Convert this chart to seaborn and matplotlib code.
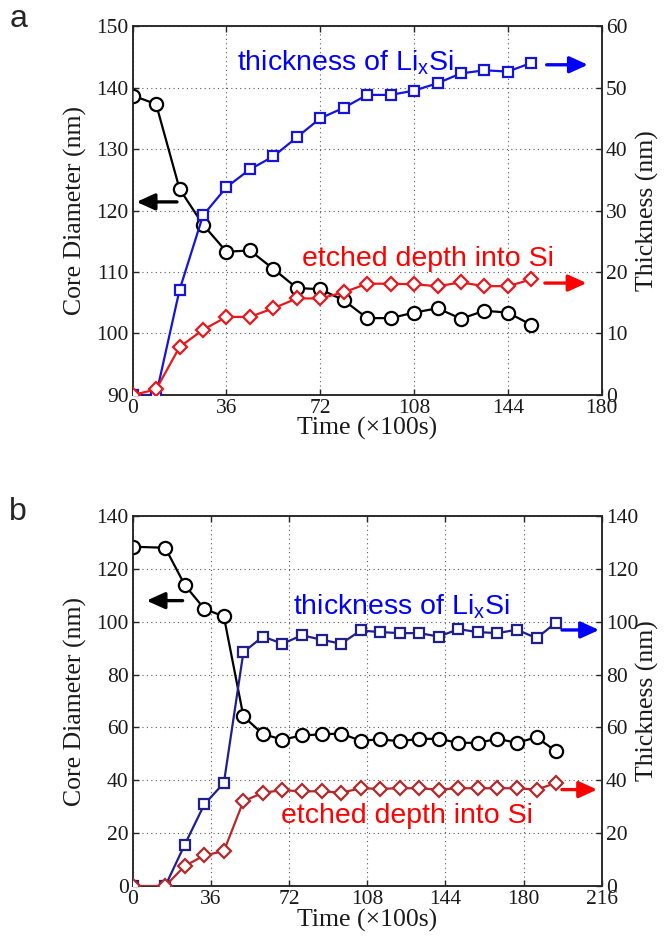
import matplotlib
matplotlib.use("Agg")
import matplotlib.pyplot as plt
import seaborn as sns
import numpy as np
import pandas as pd

# ---------------- data ----------------
# Panel a
time_a = [0, 9, 18, 27, 36, 45, 54, 63, 72, 81, 90, 99, 108, 117, 126, 135, 144, 153]
core_a = [138.7, 137.3, 123.5, 117.7, 113.3, 113.5, 110.5, 107.4, 107.2, 105.4,
          102.5, 102.5, 103.4, 104.1, 102.4, 103.7, 103.4, 101.4]
lixsi_a = [0.0, 0.0, 17.1, 29.2, 33.8, 36.7, 38.8, 41.9, 45.0, 46.7,
           48.8, 48.8, 49.5, 50.7, 52.3, 52.8, 52.6, 54.0]
etch_a = [0.0, 0.9, 7.8, 10.6, 12.7, 12.7, 14.1, 15.7, 15.7, 16.7,
          18.1, 18.1, 18.0, 17.7, 18.3, 17.7, 17.7, 18.8]

# Panel b
time_b = [0, 15, 24, 33, 42, 51, 60, 69, 78, 87, 96, 105, 114, 123, 132, 141,
          150, 159, 168, 177, 186, 195]
core_b = [128.4, 128.0, 113.9, 104.9, 102.0, 64.2, 57.5, 55.4, 57.0, 57.4, 57.7,
          55.0, 55.5, 54.8, 55.7, 55.7, 54.2, 54.2, 55.7, 54.2, 56.3, 51.0]
lixsi_b = [0.0, 0.0, 15.7, 30.9, 39.0, 88.5, 94.4, 91.7, 94.9, 93.2, 91.7,
           96.7, 96.1, 95.7, 95.7, 94.4, 97.2, 96.1, 95.7, 97.0, 93.8, 99.7]
etch_b = [0.0, 0.0, 7.6, 11.6, 13.2, 32.1, 35.3, 36.3, 35.8, 35.9, 35.3,
          37.0, 36.8, 37.0, 37.0, 36.5, 37.0, 37.0, 37.0, 37.0, 36.5, 39.0]

xticks_a = [0, 36, 72, 108, 144, 180]
xticks_b = [0, 36, 72, 108, 144, 180, 216]
label_text_lixsi = "thickness of Li$_\\mathregular{x}$Si"
label_text_etch = "etched depth into Si"
xlabel = "Time (\u00d7100s)"
ylabel_left = "Core Diameter (nm)"
ylabel_right = "Thickness (nm)"

# ---------------- style ----------------
sns.set_style("ticks")
plt.rcParams["font.family"] = ["Liberation Serif", "DejaVu Serif"]
plt.rcParams["mathtext.fontset"] = "custom"
plt.rcParams["mathtext.rm"] = "Liberation Sans"
plt.rcParams["mathtext.it"] = "Liberation Sans"

SANS = ["Liberation Sans", "DejaVu Sans"]
TICK_FS = 15.5
LAB_FS = 18.5
ANN_FS = 20.5

fig = plt.figure(figsize=(6.65, 9.4), dpi=100)

def style_axes(ax, ax2, xlim, xticks, ylim, yticks, ylim2, yticks2, xlab_pad):
    ax.set_xlim(*xlim)
    ax.set_xticks(xticks)
    ax.set_ylim(*ylim)
    ax.set_yticks(yticks)
    ax2.set_ylim(*ylim2)
    ax2.set_yticks(yticks2)
    ax.grid(True, linestyle=(0, (1, 3)), color="0.35", linewidth=0.8)
    ax.tick_params(axis="both", direction="in", length=4, width=1.0,
                   labelsize=TICK_FS, top=True, right=False, pad=3, colors="0.15",
                   labelcolor="0.1")
    ax2.tick_params(axis="y", direction="in", length=4, width=1.0,
                    labelsize=TICK_FS, pad=3, colors="0.15", labelcolor="0.1")
    for a in (ax, ax2):
        for s in a.spines.values():
            s.set_linewidth(1.1)
            s.set_color("0.15")
            s.set_visible(True)
    ax.set_xlabel(xlabel, fontsize=LAB_FS, labelpad=xlab_pad, color="0.1")
    ax.set_ylabel(ylabel_left, fontsize=LAB_FS, color="0.1", va="center")
    ax.yaxis.set_label_coords(-0.123, 0.5)
    ax2.set_ylabel(ylabel_right, fontsize=LAB_FS, color="0.1", rotation=90,
                   va="center")
    ax2.yaxis.set_label_coords(1.097, 0.5)


def draw_series(ax, ax2, t, core, lix, etch, blue, red):
    sns.lineplot(x=t, y=core, ax=ax, color="black", linewidth=1.6, marker="o",
                 markersize=9.5, markerfacecolor="white", markeredgecolor="black",
                 markeredgewidth=1.6, sort=False, legend=False, zorder=3)
    sns.lineplot(x=t, y=lix, ax=ax2, color=blue, linewidth=1.6, marker="s",
                 markersize=7, markerfacecolor="white", markeredgecolor=blue,
                 markeredgewidth=1.6, sort=False, legend=False, zorder=3)
    sns.lineplot(x=t, y=etch, ax=ax2, color=red, linewidth=1.6, marker="D",
                 markersize=7, markerfacecolor="white", markeredgecolor=red,
                 markeredgewidth=1.6, sort=False, legend=False, zorder=4)


def arrow(ax, tail, head, color):
    ax.annotate("", xy=head, xytext=tail,
                arrowprops=dict(arrowstyle="-|>,head_length=0.55,head_width=0.25",
                                mutation_scale=20, lw=2.4, color=color,
                                shrinkA=0, shrinkB=0),
                annotation_clip=False)

# ---------------- panel a ----------------
ax_a = fig.add_axes([0.1995, 0.5798, 0.7053, 0.3925])
ax_a2 = ax_a.twinx()
draw_series(ax_a, ax_a2, time_a, core_a, lixsi_a, etch_a, "#1414dc", "#e8181c")
style_axes(ax_a, ax_a2, (0, 180), xticks_a, (90, 150), list(range(90, 151, 10)),
           (0, 60), list(range(0, 61, 10)), -1)
ax_a2.text(39.9, 52.7, label_text_lixsi, color="#0000ff", fontsize=ANN_FS,
           family=SANS, va="baseline", ha="left")
ax_a2.text(64.8, 21.0, label_text_etch, color="#ff0000", fontsize=ANN_FS,
           family=SANS, va="baseline", ha="left")
arrow(ax_a, (17.0, 121.4), (1.5, 121.4), "black")
arrow(ax_a2, (158.9, 53.7), (174.7, 53.7), "#0000ff")
arrow(ax_a2, (158.2, 18.2), (174.2, 18.2), "#ff0000")
fig.text(0.014, 0.971, "a", fontsize=23, family=SANS, va="baseline", ha="left")

# ---------------- panel b ----------------
ax_b = fig.add_axes([0.1995, 0.0574, 0.7053, 0.3936])
ax_b2 = ax_b.twinx()
draw_series(ax_b, ax_b2, time_b, core_b, lixsi_b, etch_b, "#1f1f8f", "#b5282b")
style_axes(ax_b, ax_b2, (0, 216), xticks_b, (0, 140), list(range(0, 141, 20)),
           (0, 140), list(range(0, 141, 20)), 0)
ax_b2.text(73.8, 102.6, label_text_lixsi, color="#0000ff", fontsize=ANN_FS,
           family=SANS, va="baseline", ha="left")
ax_b2.text(68.5, 23.9, label_text_etch, color="#ff0000", fontsize=ANN_FS,
           family=SANS, va="baseline", ha="left")
arrow(ax_b, (23.0, 108.0), (6.4, 108.0), "black")
arrow(ax_b2, (197.7, 96.9), (214.8, 96.9), "#0000ff")
arrow(ax_b2, (197.7, 36.5), (213.9, 36.5), "#ff0000")
fig.text(0.014, 0.447, "b", fontsize=23, family=SANS, va="baseline", ha="left")

fig.savefig("out.png", dpi=100)
